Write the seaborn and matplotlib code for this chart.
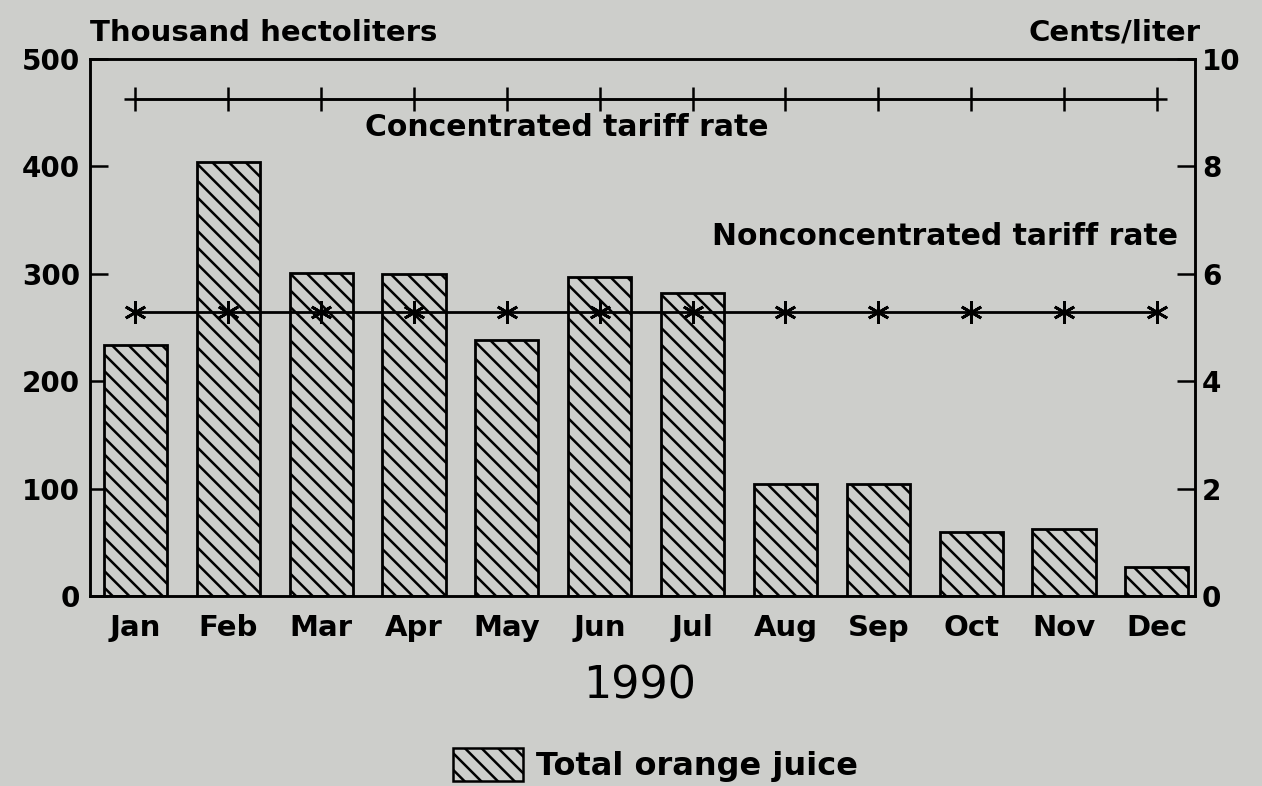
import numpy as np
import matplotlib
matplotlib.use("Agg")
import matplotlib.pyplot as plt
from matplotlib.patches import Patch
import seaborn as sns

# data
months = ["Jan", "Feb", "Mar", "Apr", "May", "Jun",
          "Jul", "Aug", "Sep", "Oct", "Nov", "Dec"]
orange_juice = [234, 404, 301, 300, 238, 297, 282, 104, 104, 60, 62, 27]   # thousand hl
conc_rate = [9.25] * 12      # cents/liter
nonconc_rate = [5.28] * 12   # cents/liter

bg = "#cdcecb"

sns.set_theme(style="white")
plt.rcParams["font.family"] = ["DejaVu Sans"]
plt.rcParams["font.weight"] = "bold"
plt.rcParams["text.color"] = "black"
plt.rcParams["hatch.linewidth"] = 1.8
plt.rcParams["hatch.color"] = "black"

fig = plt.figure(figsize=(12.62, 7.86), dpi=100, facecolor=bg)
ax = fig.add_axes([0.0713, 0.2417, 0.8756, 0.6832])
ax.set_facecolor(bg)

sns.barplot(x=months, y=orange_juice, ax=ax, color=bg, width=0.68,
            edgecolor="black", linewidth=2, hatch="\\\\", saturation=1)

xlim = (-0.49, 11.41)
ax.set_xlim(*xlim)
ax.set_ylim(0, 500)
ax.set_yticks(range(0, 501, 100))
ax.set_xlabel("")
ax.set_ylabel("")
for s in ax.spines.values():
    s.set_linewidth(1.8)
    s.set_color("black")
ax.tick_params(axis="y", direction="in", length=13, width=1.8, pad=7,
               labelsize=20, colors="black")
ax.tick_params(axis="x", direction="in", length=8, width=1.6, pad=13,
               labelsize=21, colors="black")
for lab in ax.get_xticklabels() + ax.get_yticklabels():
    lab.set_fontweight("bold")

# tariff rates on the right axis
ax2 = ax.twinx()
pos = np.arange(len(months))
ax2.hlines(conc_rate[0], pos[0] - 0.12, pos[-1] + 0.11, color="black", linewidth=1.8)
sns.lineplot(x=pos, y=conc_rate, ax=ax2, color="black", linewidth=1.8,
             marker="|", markersize=17, markeredgewidth=1.8,
             markeredgecolor="black")
sns.lineplot(x=pos, y=nonconc_rate, ax=ax2, color="black", linewidth=2,
             marker=(6, 2, 0), markersize=16, markeredgewidth=2,
             markeredgecolor="black", markerfacecolor="black")
ax2.set_ylim(0, 10)
ax2.set_yticks(range(0, 11, 2))
ax2.set_xlim(*xlim)
for s in ax2.spines.values():
    s.set_linewidth(1.8)
    s.set_color("black")
ax2.tick_params(axis="y", direction="in", length=13, width=1.8, pad=5,
                labelsize=20, colors="black")
for lab in ax2.get_yticklabels():
    lab.set_fontweight("bold")

ax.text(4.64, 436, "Concentrated tariff rate", ha="center", va="center",
        fontsize=21.5, fontweight="bold")
ax.text(11.23, 335, "Nonconcentrated tariff rate", ha="right", va="center",
        fontsize=21.5, fontweight="bold")

fig.text(0.0713, 0.948, "Thousand hectoliters", ha="left", va="baseline",
         fontsize=21, fontweight="bold")
fig.text(0.951, 0.948, "Cents/liter", ha="right", va="baseline",
         fontsize=21, fontweight="bold")
fig.text(0.507, 0.127, "1990", ha="center", va="center",
         fontsize=32, fontweight="normal")

handle = Patch(facecolor=bg, edgecolor="black", hatch="\\\\", linewidth=1.8)
fig.legend([handle], ["Total orange juice"], loc="lower center",
           bbox_to_anchor=(0.519, -0.032), frameon=False,
           handlelength=2.2, handleheight=1.2, handletextpad=0.4,
           prop={"weight": "bold", "size": 23})

fig.savefig("out.png", dpi=100, facecolor=bg)
